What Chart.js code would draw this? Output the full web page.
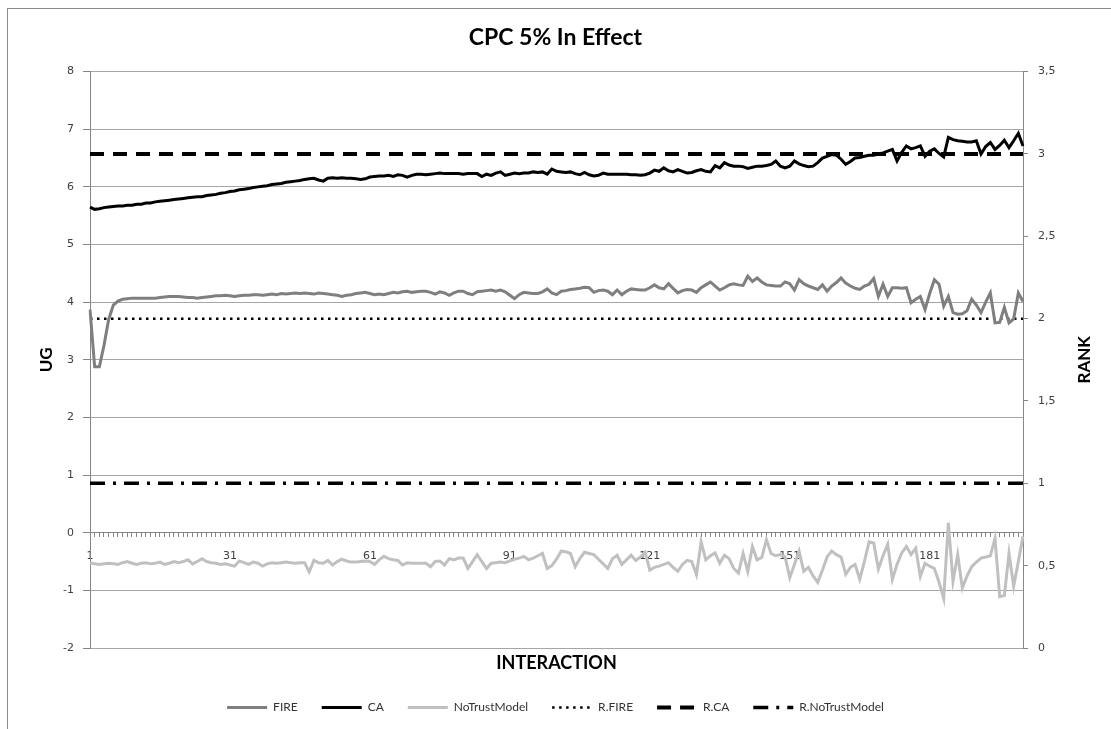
<!DOCTYPE html>
<html>
<head>
<meta charset="utf-8">
<title>CPC 5% In Effect</title>
<script src="https://cdn.jsdelivr.net/npm/chart.js@4.4.1/dist/chart.umd.min.js"></script>
<style>
  html, body { margin: 0; padding: 0; background: #fff; overflow: hidden; }
  #wrap { position: relative; width: 1111px; height: 729px; }
  #frame { position: absolute; left: 7px; top: 8px; width: 1120px; height: 740px; border: 1px solid #8c8c8c; pointer-events: none; }
  canvas { position: absolute; left: 0; top: 0; }
</style>
</head>
<body>
<div id="wrap">
  <canvas id="myChart" width="1111" height="729"></canvas>
  <div id="frame"></div>
</div>
<script>
// interactions 1..201
const categories = Array.from({length: 201}, (_, i) => String(i + 1));

// UG values (left axis)
const fireValues = [
  3.87, 2.88, 2.88, 3.25, 3.70, 3.95, 4.02, 4.05, 4.06, 4.07,
  4.07, 4.07, 4.07, 4.07, 4.07, 4.08, 4.09, 4.10, 4.10, 4.10,
  4.09, 4.08, 4.08, 4.07, 4.08, 4.09, 4.10, 4.11, 4.11, 4.12,
  4.11, 4.10, 4.11, 4.12, 4.12, 4.13, 4.13, 4.12, 4.13, 4.14,
  4.13, 4.15, 4.14, 4.15, 4.16, 4.15, 4.16, 4.15, 4.14, 4.16,
  4.15, 4.14, 4.13, 4.12, 4.10, 4.12, 4.13, 4.15, 4.16, 4.17,
  4.15, 4.13, 4.14, 4.13, 4.15, 4.17, 4.16, 4.18, 4.19, 4.17,
  4.18, 4.19, 4.19, 4.17, 4.14, 4.18, 4.16, 4.12, 4.16, 4.19,
  4.19, 4.15, 4.13, 4.18, 4.19, 4.20, 4.21, 4.19, 4.21, 4.18,
  4.12, 4.06, 4.13, 4.17, 4.16, 4.15, 4.15, 4.18, 4.23, 4.16,
  4.13, 4.19, 4.20, 4.22, 4.23, 4.24, 4.26, 4.25, 4.17, 4.20,
  4.21, 4.19, 4.13, 4.21, 4.13, 4.19, 4.23, 4.22, 4.21, 4.21,
  4.25, 4.30, 4.25, 4.23, 4.32, 4.24, 4.16, 4.20, 4.22, 4.21,
  4.17, 4.25, 4.30, 4.35, 4.28, 4.21, 4.25, 4.30, 4.32, 4.30,
  4.29, 4.45, 4.36, 4.42, 4.35, 4.30, 4.29, 4.28, 4.28, 4.35,
  4.32, 4.21, 4.39, 4.32, 4.28, 4.25, 4.22, 4.30, 4.19, 4.28,
  4.34, 4.42, 4.33, 4.28, 4.24, 4.22, 4.28, 4.31, 4.41, 4.10,
  4.31, 4.10, 4.25, 4.25, 4.24, 4.25, 3.99, 4.05, 4.10, 3.87,
  4.15, 4.39, 4.31, 3.93, 4.10, 3.82, 3.79, 3.80, 3.85, 4.05,
  3.95, 3.82, 4.00, 4.16, 3.64, 3.65, 3.91, 3.64, 3.71, 4.16,
  4.01
];

const caValues = [
  5.65, 5.61, 5.62, 5.64, 5.65, 5.66, 5.67, 5.67, 5.68, 5.68,
  5.70, 5.70, 5.72, 5.72, 5.74, 5.75, 5.76, 5.77, 5.78, 5.79,
  5.80, 5.81, 5.82, 5.83, 5.83, 5.85, 5.86, 5.87, 5.89, 5.90,
  5.92, 5.93, 5.95, 5.96, 5.97, 5.99, 6.00, 6.01, 6.02, 6.04,
  6.05, 6.06, 6.08, 6.09, 6.10, 6.11, 6.13, 6.14, 6.15, 6.12,
  6.10, 6.15, 6.16, 6.15, 6.16, 6.15, 6.15, 6.14, 6.13, 6.14,
  6.17, 6.18, 6.19, 6.19, 6.20, 6.18, 6.21, 6.20, 6.17, 6.20,
  6.22, 6.22, 6.21, 6.22, 6.23, 6.24, 6.23, 6.23, 6.23, 6.23,
  6.22, 6.23, 6.23, 6.23, 6.18, 6.22, 6.20, 6.24, 6.26, 6.20,
  6.22, 6.24, 6.23, 6.24, 6.24, 6.26, 6.25, 6.26, 6.22, 6.31,
  6.27, 6.26, 6.25, 6.26, 6.23, 6.21, 6.25, 6.21, 6.19, 6.20,
  6.24, 6.22, 6.22, 6.22, 6.22, 6.22, 6.21, 6.21, 6.20, 6.21,
  6.24, 6.29, 6.27, 6.33, 6.28, 6.26, 6.30, 6.27, 6.24, 6.25,
  6.28, 6.30, 6.27, 6.26, 6.37, 6.33, 6.42, 6.38, 6.36, 6.36,
  6.35, 6.32, 6.34, 6.36, 6.36, 6.37, 6.39, 6.45, 6.36, 6.33,
  6.36, 6.45, 6.40, 6.37, 6.35, 6.36, 6.42, 6.50, 6.53, 6.56,
  6.55, 6.48, 6.39, 6.44, 6.50, 6.51, 6.53, 6.55, 6.55, 6.57,
  6.59, 6.62, 6.65, 6.45, 6.60, 6.71, 6.66, 6.68, 6.71, 6.53,
  6.62, 6.66, 6.58, 6.52, 6.86, 6.82, 6.80, 6.79, 6.78, 6.78,
  6.80, 6.57, 6.70, 6.77, 6.65, 6.72, 6.81, 6.68, 6.80, 6.93,
  6.71
];

const noTrustValues = [
  -0.53, -0.54, -0.55, -0.54, -0.53, -0.54, -0.55, -0.52, -0.50, -0.53,
  -0.55, -0.53, -0.52, -0.54, -0.53, -0.51, -0.55, -0.53, -0.50, -0.52,
  -0.50, -0.47, -0.54, -0.50, -0.45, -0.50, -0.52, -0.53, -0.55, -0.54,
  -0.56, -0.58, -0.49, -0.52, -0.55, -0.51, -0.53, -0.58, -0.54, -0.52,
  -0.53, -0.52, -0.51, -0.52, -0.53, -0.52, -0.52, -0.68, -0.48, -0.52,
  -0.53, -0.48, -0.56, -0.50, -0.46, -0.49, -0.51, -0.51, -0.50, -0.49,
  -0.50, -0.55, -0.47, -0.41, -0.45, -0.47, -0.48, -0.56, -0.52, -0.53,
  -0.53, -0.53, -0.53, -0.59, -0.50, -0.49, -0.56, -0.45, -0.47, -0.44,
  -0.44, -0.62, -0.50, -0.38, -0.50, -0.62, -0.53, -0.52, -0.51, -0.52,
  -0.49, -0.46, -0.44, -0.41, -0.47, -0.44, -0.40, -0.36, -0.62, -0.57,
  -0.46, -0.32, -0.33, -0.36, -0.59, -0.45, -0.34, -0.36, -0.38, -0.46,
  -0.54, -0.62, -0.45, -0.39, -0.55, -0.47, -0.39, -0.48, -0.42, -0.34,
  -0.65, -0.60, -0.58, -0.55, -0.52, -0.60, -0.67, -0.55, -0.48, -0.50,
  -0.73, -0.16, -0.47, -0.40, -0.35, -0.53, -0.39, -0.45, -0.62, -0.70,
  -0.36, -0.67, -0.24, -0.47, -0.43, -0.12, -0.36, -0.40, -0.38, -0.42,
  -0.78, -0.55, -0.32, -0.67, -0.60, -0.75, -0.86, -0.65, -0.42, -0.32,
  -0.38, -0.42, -0.72, -0.60, -0.55, -0.81, -0.50, -0.16, -0.18, -0.63,
  -0.40, -0.20, -0.81, -0.55, -0.35, -0.24, -0.38, -0.27, -0.76, -0.53,
  -0.58, -0.62, -0.86, -1.14, 0.17, -0.84, -0.38, -0.96, -0.75, -0.59,
  -0.51, -0.44, -0.42, -0.40, -0.10, -1.11, -1.09, -0.36, -0.93, -0.50,
  -0.06
];

// RANK values (right axis), constant per model
const fireRank = 2;
const caRank = 3;
const noTrustRank = 1;

const leftTicks = {min: -2, max: 8, step: 1};
const rightTicks = {min: 0, max: 3.5, step: 0.5};

const tickFont = {family: 'DejaVu Sans', size: 11};
const tickColor = '#404040';
const axisColor = '#868686';
const gridColor = '#a6a6a6';
const sampleWidth = 40;

const ctx = document.getElementById('myChart').getContext('2d');

const lineSet = (label, data, color, width, dash, axis) => ({
    label: label,
    data: data,
    borderColor: color,
    backgroundColor: color,
    borderWidth: width,
    borderDash: dash,
    borderCapStyle: 'butt',
    pointRadius: 0,
    pointHoverRadius: 0,
    tension: 0,
    fill: false,
    xAxisID: 'x',
    yAxisID: axis
});

// legend samples with the dataset's own dash, plus the right axis title read bottom-up
const extras = {
    id: 'extras',
    afterDraw(chart) {
        const c = chart.ctx;
        const legend = chart.legend;
        legend.legendItems.forEach((item, i) => {
            const box = legend.legendHitBoxes[i];
            const ds = chart.data.datasets[item.datasetIndex];
            const y = Math.round(box.top + box.height / 2) + 0.5;
            c.save();
            c.strokeStyle = ds.borderColor;
            c.lineWidth = ds.borderWidth;
            c.setLineDash(ds.borderDash);
            c.beginPath();
            c.moveTo(box.left, y);
            c.lineTo(box.left + sampleWidth, y);
            c.stroke();
            c.restore();
        });

        const area = chart.chartArea;
        c.save();
        c.translate(1085, (area.top + area.bottom) / 2);
        c.rotate(-Math.PI / 2);
        c.fillStyle = '#000';
        c.font = 'bold 17px Lato';
        c.textAlign = 'center';
        c.textBaseline = 'middle';
        c.fillText('RANK', 0, 0);
        c.restore();
    }
};

const myChart = new Chart(ctx, {
    type: 'line',
    data: {
        labels: categories,
        datasets: [
            lineSet('FIRE', fireValues, '#7f7f7f', 3, [], 'y'),
            lineSet('CA', caValues, '#000000', 3, [], 'y'),
            lineSet('NoTrustModel', noTrustValues, '#c0c0c0', 3, [], 'y'),
            lineSet('R.FIRE', categories.map(() => fireRank), '#000000', 2.5, [2.5, 4.5], 'y2'),
            lineSet('R.CA', categories.map(() => caRank), '#000000', 4, [14, 9], 'y2'),
            lineSet('R.NoTrustModel', categories.map(() => noTrustRank), '#000000', 3.5, [15, 8, 3, 8], 'y2')
        ]
    },
    plugins: [extras],
    options: {
        responsive: false,
        animation: false,
        layout: {padding: {top: 0, bottom: 6, left: 0, right: 0}},
        plugins: {
            title: {
                display: true,
                text: 'CPC 5% In Effect',
                color: '#000',
                font: {family: 'Lato', size: 23, weight: 'bold'},
                padding: {top: 24, bottom: 20}
            },
            legend: {
                display: true,
                position: 'bottom',
                labels: {
                    boxWidth: sampleWidth,
                    boxHeight: 12,
                    padding: 24,
                    color: '#333',
                    font: {family: 'Lato', size: 12},
                    generateLabels: (chart) => Chart.defaults.plugins.legend.labels.generateLabels(chart).map(item => {
                        item.fillStyle = 'rgba(0,0,0,0)';
                        item.strokeStyle = 'rgba(0,0,0,0)';
                        item.lineWidth = 0;
                        return item;
                    })
                }
            },
            tooltip: {enabled: false}
        },
        scales: {
            x: {
                type: 'category',
                position: {y: 0},
                offset: false,
                grid: {display: true, drawOnChartArea: false, drawTicks: true, tickLength: 4, color: axisColor},
                border: {display: true, color: axisColor, width: 1},
                ticks: {
                    autoSkip: false,
                    maxRotation: 0,
                    padding: 13,
                    color: tickColor,
                    font: tickFont,
                    callback: (value, index) => index % 30 === 0 ? categories[index] : ''
                }
            },
            xTitle: {
                type: 'category',
                position: 'bottom',
                offset: false,
                grid: {display: false, drawTicks: false},
                border: {display: false},
                ticks: {display: false},
                title: {
                    display: true,
                    text: 'INTERACTION',
                    color: '#000',
                    font: {family: 'Lato', size: 18, weight: 'bold'},
                    padding: {top: 0, bottom: 3}
                },
                afterFit: (scale) => { scale.height = 29; }
            },
            y: {
                position: 'left',
                min: leftTicks.min,
                max: leftTicks.max,
                grid: {color: gridColor, tickColor: axisColor, tickLength: 7, drawTicks: true},
                border: {display: true, color: axisColor},
                ticks: {stepSize: leftTicks.step, color: tickColor, font: tickFont, padding: 9},
                title: {
                    display: true,
                    text: 'UG',
                    color: '#000',
                    font: {family: 'Lato', size: 17, weight: 'bold'},
                    padding: {top: 36, bottom: 0}
                },
                afterFit: (scale) => { scale.width = 90; }
            },
            y2: {
                position: 'right',
                min: rightTicks.min,
                max: rightTicks.max,
                grid: {drawOnChartArea: false, color: axisColor, tickLength: 5},
                border: {display: true, color: axisColor},
                ticks: {
                    stepSize: rightTicks.step,
                    color: tickColor,
                    font: tickFont,
                    padding: 10,
                    callback: (value) => String(value).replace('.', ',')
                },
                title: {display: false},
                afterFit: (scale) => { scale.width = 88; }
            }
        }
    }
});
</script>
</body>
</html>
